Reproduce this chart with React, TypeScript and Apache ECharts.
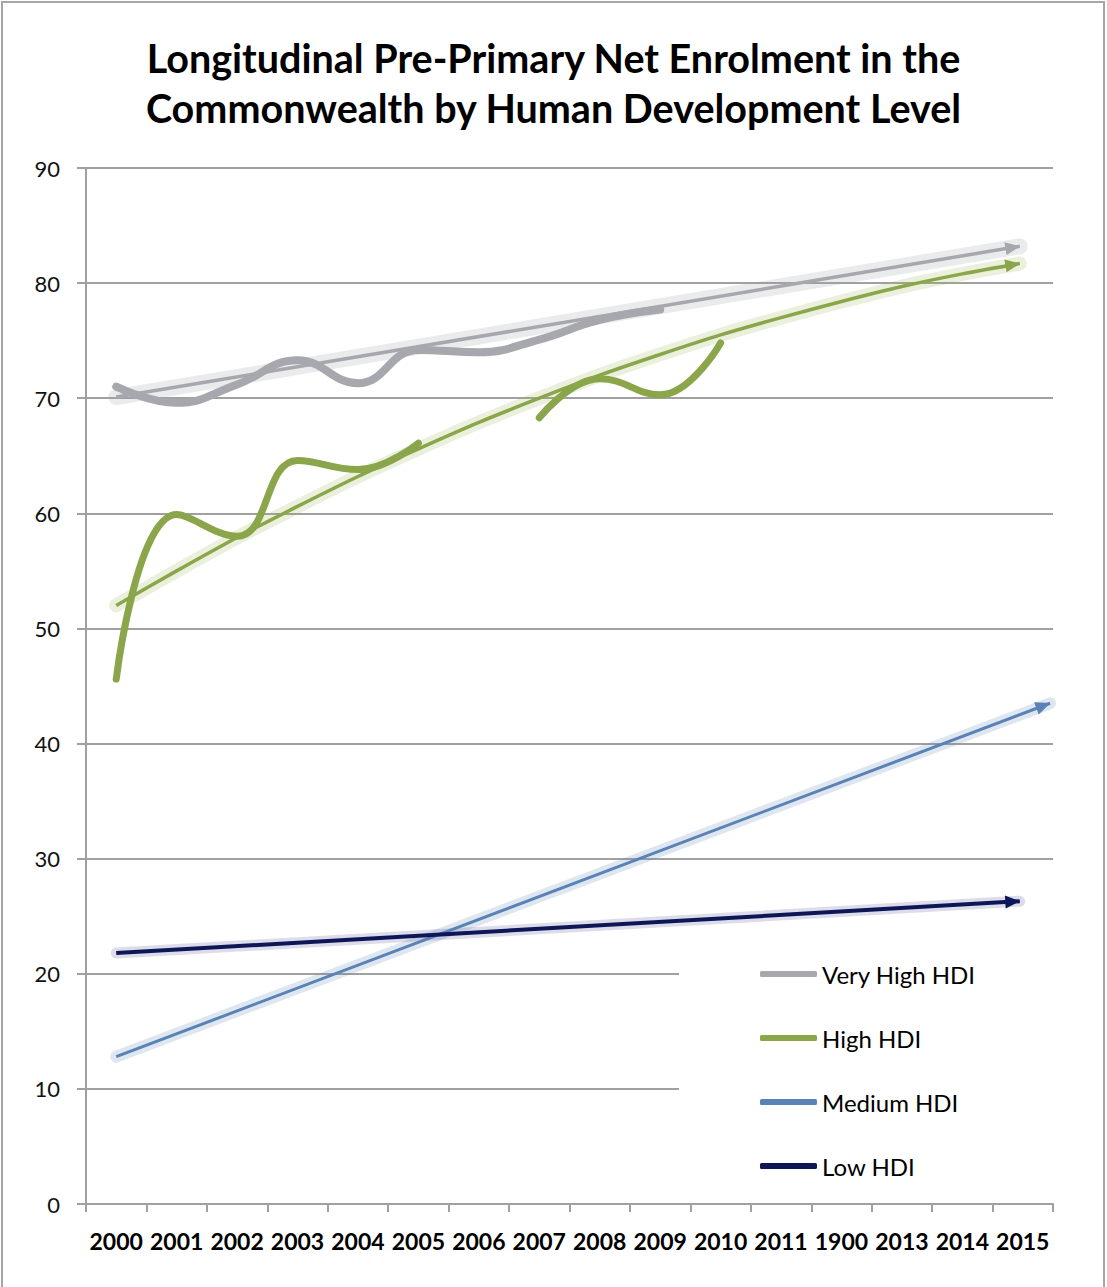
import React, { useEffect, useRef } from "react";
import * as echarts from "echarts";

const years = ["2000", "2001", "2002", "2003", "2004", "2005", "2006", "2007", "2008", "2009", "2010", "2011", "1900", "2013", "2014", "2015"];
const yTicks = [0, 10, 20, 30, 40, 50, 60, 70, 80, 90];

// data lines (by year index)
const veryHighHDI = [71.0, 69.6, 71.2, 73.3, 71.3, 74.2, 74.0, 75.1, 76.8, 77.7];
const highHDI: (number | null)[] = [45.6, 59.9, 58.0, 64.6, 63.8, 66.1, null, 68.3, 71.7, 70.3, 74.8];
const mediumHDI: number[] = [];
const lowHDI: number[] = [];

// trendlines: [x index, value]
const veryHighTrend = [[0, 70.1], [14.95, 83.2]];
const highTrend = [
  [0, 52.0], [1, 55.0], [2, 57.9], [3, 60.6], [4, 63.2], [5, 65.6], [6, 67.9], [7, 70.0],
  [8, 72.0], [9, 73.8], [10, 75.5], [11, 77.0], [12, 78.4], [13, 79.7], [14, 80.8], [14.95, 81.7],
];
const mediumTrend = [[0, 12.8], [15.45, 43.5]];
const lowTrend = [[0, 21.8], [14.95, 26.3]];

const C_VH = "#a6a8ad";
const C_H = "#8aa54a";
const C_M = "#5a82b4";
const C_L = "#0d1758";
const FONT = "Lato";
const ARROW = "path://M0,0L12,5L0,10Z";

function glowSeries(name: string, pts: number[][], glow: string, width: number) {
  return {
    name,
    type: "line",
    xAxisIndex: 1,
    data: pts,
    symbol: "none",
    smooth: pts.length > 2 ? 0.3 : false,
    z: 2,
    lineStyle: { color: glow, width, cap: "round" },
    silent: true,
  };
}

function trendSeries(name: string, pts: number[][], color: string, angle: number, width: number) {
  const rad = (angle * Math.PI) / 180;
  const data = pts.map((p, i) => {
    if (i === pts.length - 1) {
      return {
        value: p,
        symbol: ARROW,
        symbolSize: [15, 13],
        symbolRotate: angle,
        symbolOffset: [-7 * Math.cos(rad), 7 * Math.sin(rad)],
      };
    }
    return { value: p };
  });
  return {
    name,
    type: "line",
    xAxisIndex: 1,
    data,
    symbol: "none",
    smooth: pts.length > 2 ? 0.3 : false,
    z: 3,
    itemStyle: { color },
    lineStyle: { color, width },
    silent: true,
  };
}

export default function App() {
  const ref = useRef<HTMLDivElement>(null);
  useEffect(() => {
    if (!ref.current) return;
    const chart = echarts.init(ref.current, undefined, { renderer: "svg" });
    const option: any = {
      animation: false,
      backgroundColor: "#ffffff",
      title: {
        text: "Longitudinal Pre-Primary Net Enrolment in the\nCommonwealth by Human Development Level",
        left: "center",
        top: 27,
        textStyle: { fontFamily: FONT, fontWeight: "bold", fontSize: 39.5, lineHeight: 50, color: "#000" },
      },
      grid: { left: 86, right: 54, top: 168, bottom: 83, containLabel: false },
      legend: {
        data: ["Very High HDI", "High HDI", "Medium HDI", "Low HDI"],
        orient: "vertical",
        left: 760,
        top: 962,
        padding: 0,
        itemWidth: 57,
        itemHeight: 6,
        itemGap: 40,
        icon: "roundRect",
        textStyle: { fontFamily: FONT, fontSize: 24, lineHeight: 24, color: "#000" },
        z: 5,
      },
      graphic: [
        {
          type: "rect",
          z: 1,
          silent: true,
          shape: { x: 679, y: 935, width: 380, height: 262 },
          style: { fill: "#ffffff" },
        },
        {
          type: "rect",
          z: 10,
          silent: true,
          shape: { x: 2, y: 2, width: 1102, height: 1300 },
          style: { fill: "none", stroke: "#a6a6a6", lineWidth: 2 },
        },
      ],
      xAxis: [
        {
          type: "category",
          data: years,
          boundaryGap: true,
          axisLine: { lineStyle: { color: "#a0a0a0", width: 2 } },
          axisTick: { show: true, length: 8, lineStyle: { color: "#a0a0a0", width: 2 } },
          axisLabel: { fontFamily: FONT, fontWeight: "bold", fontSize: 23, color: "#000", margin: 25, interval: 0 },
          splitLine: { show: false },
        },
        {
          type: "value",
          min: -0.5,
          max: 15.5,
          show: false,
          splitLine: { show: false },
        },
      ],
      yAxis: {
        type: "value",
        min: yTicks[0],
        max: yTicks[yTicks.length - 1],
        interval: 10,
        axisLine: { show: true, onZero: false, lineStyle: { color: "#a0a0a0", width: 2 } },
        axisTick: { show: true, length: 9, lineStyle: { color: "#a0a0a0", width: 2 } },
        axisLabel: { fontFamily: FONT, fontSize: 22, color: "#111", margin: 26 },
        splitLine: { show: true, lineStyle: { color: "#a0a0a0", width: 2 } },
      },
      series: [
        glowSeries("vh glow", veryHighTrend, "rgba(160,163,172,0.22)", 16),
        glowSeries("h glow", highTrend, "rgba(150,180,80,0.2)", 14),
        glowSeries("m glow", mediumTrend, "rgba(90,130,180,0.2)", 12),
        glowSeries("l glow", lowTrend, "rgba(60,60,140,0.18)", 11),
        trendSeries("Very High HDI trend", veryHighTrend, C_VH, 9.5, 3.5),
        trendSeries("High HDI trend", highTrend, C_H, 9.3, 3.5),
        trendSeries("Medium HDI trend", mediumTrend, C_M, 20.6, 3),
        trendSeries("Low HDI trend", lowTrend, C_L, 3.2, 4),
        {
          name: "Very High HDI",
          type: "line",
          xAxisIndex: 1,
          data: veryHighHDI.map((v, i) => [i, v]),
          symbol: "none",
          smooth: 0.45,
          z: 4,
          itemStyle: { color: C_VH },
          lineStyle: { color: C_VH, width: 8, cap: "round" },
        },
        {
          name: "High HDI",
          type: "line",
          xAxisIndex: 1,
          data: highHDI.map((v, i) => [i, v]),
          symbol: "none",
          smooth: 0.45,
          connectNulls: false,
          z: 4,
          itemStyle: { color: C_H },
          lineStyle: { color: C_H, width: 7, cap: "round" },
        },
        {
          name: "Medium HDI",
          type: "line",
          xAxisIndex: 1,
          data: mediumHDI.map((v, i) => [i, v]),
          symbol: "none",
          itemStyle: { color: C_M },
          lineStyle: { color: C_M, width: 7 },
        },
        {
          name: "Low HDI",
          type: "line",
          xAxisIndex: 1,
          data: lowHDI.map((v, i) => [i, v]),
          symbol: "none",
          itemStyle: { color: C_L },
          lineStyle: { color: C_L, width: 7 },
        },
      ],
    };
    chart.setOption(option);
    return () => chart.dispose();
  }, []);
  return (
    <div
      ref={ref}
      style={{ position: "fixed", left: 0, top: 0, width: 1107, height: 1287, background: "#fff" }}
    />
  );
}
